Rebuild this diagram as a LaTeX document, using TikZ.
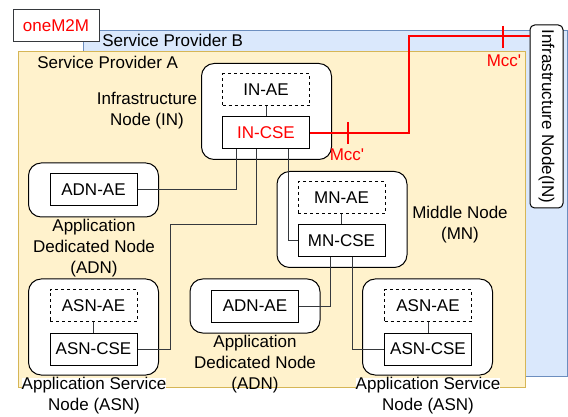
\documentclass[tikz,border=0pt]{standalone}
\usepackage{fontspec}
\setmainfont{Liberation Sans}
\usetikzlibrary{positioning, calc}
\definecolor{spyellow}{HTML}{FFF2CC}
\definecolor{spyellowline}{HTML}{D6B656}
\definecolor{spblue}{HTML}{DAE8FC}
\definecolor{spblueline}{HTML}{6C8EBF}
\definecolor{linkgray}{HTML}{36393D}
\tikzstyle{caption} = [align=center, inner sep=0pt, font=\fontsize{12.75}{15.75}\selectfont]
\tikzstyle{frame} = [rectangle, draw, black, fill=white, line width=0.75pt,
                      rounded corners=9.5pt, minimum width=97.5pt]
\tikzstyle{big frame} = [frame, minimum height=72pt]
\tikzstyle{small frame} = [frame, minimum height=40.5pt]
\tikzstyle{entity} = [rectangle, draw, black, fill=white, line width=0.75pt,
                      minimum width=65.25pt, minimum height=24pt, font=\fontsize{12.75}{15}\selectfont]
\tikzstyle{ae} = [entity, dash pattern=on 2.25pt off 2.25pt]
\tikzstyle{cse} = [entity]
\tikzstyle{link} = [linkgray, line width=0.75pt]
\tikzstyle{mcc} = [red, line width=1.5pt]

\begin{document}
\begin{tikzpicture}[x=0.75pt, y=-0.75pt]
  \useasboundingbox (0,0) rectangle (568,417);
  %Providers
  \draw[fill=spblue, draw=spblueline, line width=0.75pt] (83,31) rectangle (567,376);
  \node[caption, anchor=west] (spb) at (102,40) {Service Provider B};
  \draw[fill=spyellow, draw=spyellowline, line width=0.75pt] (18,52) rectangle (525,387);
  \node[caption, anchor=west] (spa) at (37,62) {Service Provider A};
  \node[caption, draw=linkgray, fill=white, line width=0.75pt, minimum width=64.5pt,
        minimum height=24pt, text=red] (onem2m) at (56,26) {oneM2M};
  \node[caption, rotate=-90, draw, fill=white, line width=0.75pt, rounded corners=3.5pt,
        minimum width=137.25pt, minimum height=24.75pt] (inB) at (546.5,116.5) {Infrastructure Node(IN)};

  %Infrastructure node
  \node[big frame] (inA) at (266.5,111.5) {};
  \node[ae] (inae) at (266,90) {IN-AE};
  \node[cse, text=red] (incse) at (266,133) {IN-CSE};
  \draw[link] (inae) -- (incse);
  \node[caption] (inlabel) at (147,111) {Infrastructure\\Node (IN)};

  %Middle node
  \node[big frame] (mn) at (342,219.5) {};
  \node[ae] (mnae) at (341.5,198) {MN-AE};
  \node[cse] (mncse) at (341.5,241) {MN-CSE};
  \draw[link] (mnae) -- (mncse);
  \node[caption] (mnlabel) at (460,225) {Middle Node\\(MN)};

  %Application dedicated nodes
  \node[small frame] (adn1) at (93.5,190) {};
  \node[cse] (adnae1) at (93.5,190) {ADN-AE};
  \node[caption] (adnlabel1) at (94,248) {Application\\Dedicated Node\\(ADN)};
  \node[small frame] (adn2) at (255,306) {};
  \node[cse] (adnae2) at (255,306) {ADN-AE};
  \node[caption] (adnlabel2) at (255,364) {Application\\Dedicated Node\\(ADN)};

  %Application service nodes
  \node[big frame] (asn1) at (93.5,327) {};
  \node[ae] (asnae1) at (93.5,305.5) {ASN-AE};
  \node[cse] (asncse1) at (93.5,349) {ASN-CSE};
  \draw[link] (asnae1) -- (asncse1);
  \node[caption, fill=white] (asnlabel1) at (94,396) {Application Service\\Node (ASN)};
  \node[big frame] (asn2) at (427.5,327) {};
  \node[ae] (asnae2) at (428,305.5) {ASN-AE};
  \node[cse] (asncse2) at (428,349) {ASN-CSE};
  \draw[link] (asnae2) -- (asncse2);
  \node[caption, fill=white] (asnlabel2) at (428,396) {Application Service\\Node (ASN)};

  %Lines
  \coordinate (bend) at (170,225);
  \draw[link] (adnae1.east) -| ([xshift=-22.5pt]incse.south);
  \draw[link] ([xshift=-7.5pt]incse.south) |- (bend) |- (asncse1.east);
  \draw[link] ([xshift=16.5pt]incse.south) |- (mncse.west);
  \draw[link] ([xshift=-7.9pt]mncse.south) |- (adnae2.east);
  \draw[link] ([xshift=8.6pt]mncse.south) |- (asncse2.west);

  %Mcc' reference points
  \coordinate (turn) at (409,36);
  \draw[mcc] (incse.east) -| (turn) -- (turn -| inB.south);
  \coordinate (mccA) at (348,133);
  \coordinate (mccB) at (503,37);
  \draw[mcc] ([yshift=8.25pt]mccA) -- ([yshift=-8.25pt]mccA);
  \draw[mcc] ([yshift=8.25pt]mccB) -- ([yshift=-8.25pt]mccB);
  \node[caption, text=red] (mcclabelA) at (347,155) {Mcc\textquotesingle};
  \node[caption, text=red] (mcclabelB) at (504,61) {Mcc\textquotesingle};
\end{tikzpicture}
\end{document}
